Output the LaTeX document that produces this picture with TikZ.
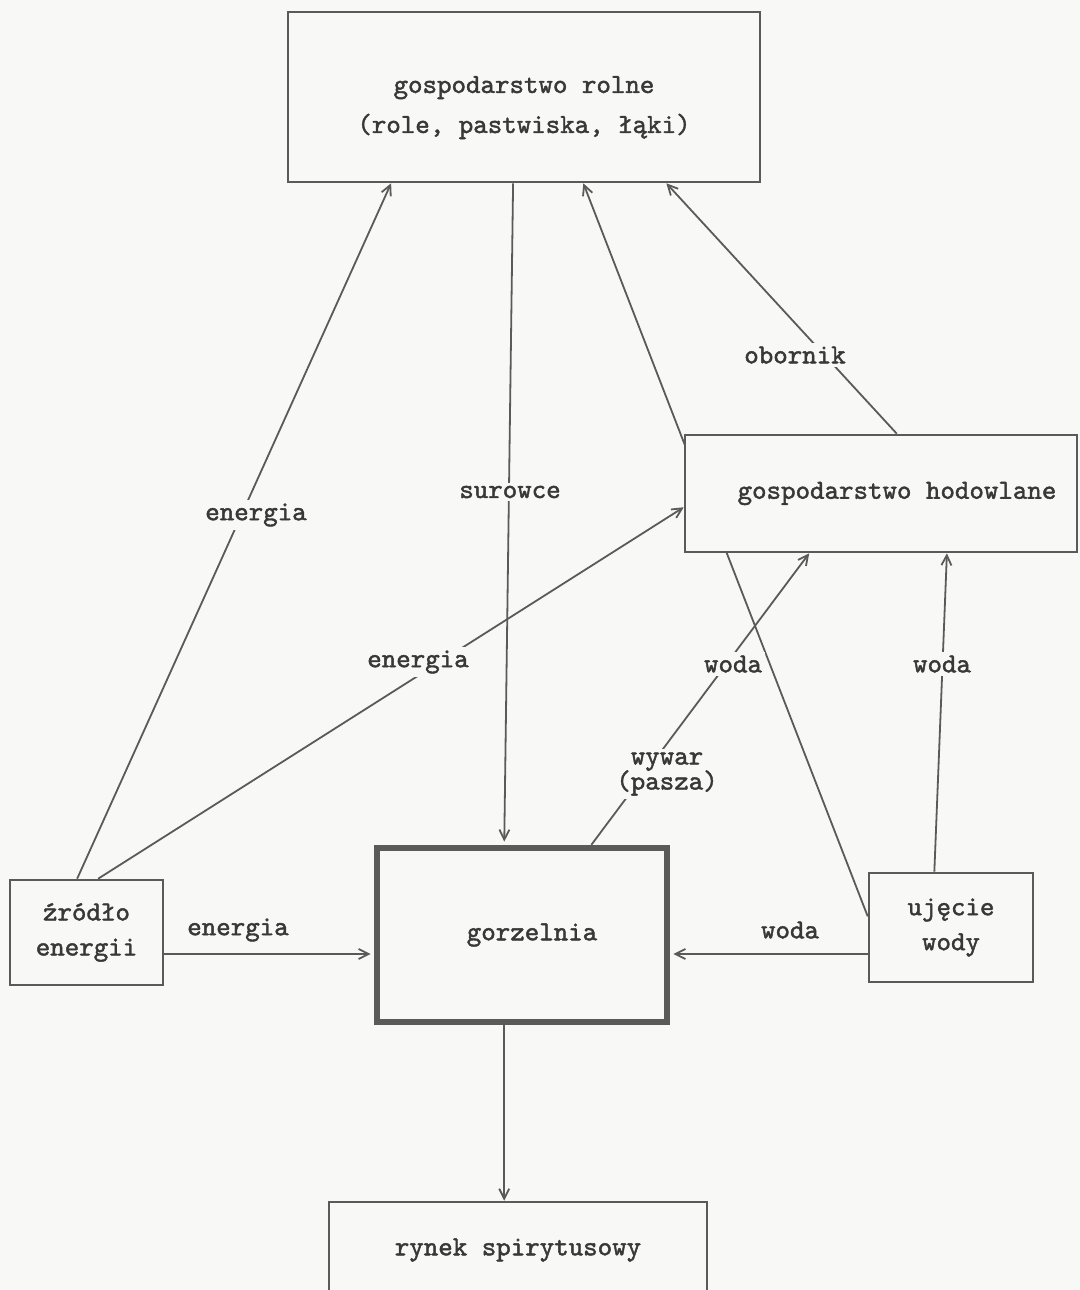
\documentclass[tikz,border=0pt]{standalone}
\usepackage{fontspec}
\setmainfont{lmmono10-regular.otf}[FakeBold=1.6]
\usetikzlibrary{arrows.meta,calc,backgrounds}
\definecolor{InkLine}{HTML}{5A5A5A}
\definecolor{InkText}{HTML}{383838}
\definecolor{Paper}{HTML}{F8F8F6}
\tikzset{>={Straight Barb[length=5pt,width=5pt]},every node/.style={font=\fontsize{13.8}{17.5}\selectfont,
 text=InkText},block/.style={draw=InkLine,line width=1.3pt,fill=Paper,align=center},
 mainblock/.style={block,line width=3.2pt},lbl/.style={fill=Paper,inner sep=1.5pt,align=center},
 flow/.style={draw=InkLine,line width=0.9pt,->}}

\begin{document}
\begin{tikzpicture}[x=0.5pt,y=-0.5pt]
\path[use as bounding box] (0,0) rectangle (1080,1290);
\clip (0,0) rectangle (1080,1290);
% boxes
\node[block,minimum width=236pt,minimum height=85pt] (rolne) at (524,97) {\rule{0pt}{19pt}gospodarstwo rolne\\[2.5pt](role, pastwiska, łąki)};
\node[block,minimum width=196pt,minimum height=58.5pt] (hod) at (881,493.5) {\hspace*{16pt}gospodarstwo hodowlane};
\node[mainblock,minimum width=145pt,minimum height=87pt] (gorz) at (522,935) {\hspace*{10pt}gorzelnia};
\node[block,minimum width=76.5pt,minimum height=52.5pt] (zrodlo) at (86.5,932.5) {źródło\\energii};
\node[block,minimum width=82pt,minimum height=54.5pt] (ujecie) at (951,927.5) {ujęcie\\wody};
\node[block,minimum width=189pt,minimum height=48pt] (rynek) at (518,1250) {rynek spirytusowy};
\coordinate (lvl) at (0,954);
\coordinate (gout) at ($(gorz.south west)!.44!(gorz.south east)$);
% flows
\begin{scope}[on background layer]
\fill[Paper] (0,0) rectangle (1080,1290);
\draw[flow] ($(zrodlo.north west)!.44!(zrodlo.north east)$) -- ($(rolne.south west)!.22!(rolne.south east)$);
\draw[flow] ($(zrodlo.north west)!.575!(zrodlo.north east)$) -- ($(hod.north west)!.615!(hod.south west)$);
\draw[flow,shorten >=1.6pt] ($(rolne.south west)!.477!(rolne.south east)$) -- ($(gorz.north west)!.44!(gorz.north east)$);
\draw[flow] ($(hod.north west)!.54!(hod.north east)$) -- ($(rolne.south west)!.8!(rolne.south east)$);
\draw[flow] ($(gorz.north west)!.734!(gorz.north east)$) -- ($(hod.south west)!.318!(hod.south east)$);
\draw[flow] ($(ujecie.north west)!.4!(ujecie.south west)$) -- ($(rolne.south west)!.625!(rolne.south east)$);
\draw[flow] ($(ujecie.north west)!.4!(ujecie.north east)$) -- ($(hod.south west)!.667!(hod.south east)$);
\draw[flow,shorten >=1.6pt] (zrodlo.east |- lvl) -- (gorz.west |- lvl);
\draw[flow,shorten >=1.6pt] (ujecie.west |- lvl) -- (gorz.east |- lvl);
\draw[flow] (gout) -- (gout |- rynek.north);
\end{scope}
% labels
\node[lbl] (l1) at (256,515) {energia};
\node[lbl] (l2) at (510,492) {surowce};
\node[lbl] (l3) at (795,355) {obornik};
\node[lbl] (l4) at (418,662) {energia};
\node[lbl] (l5) at (733,664) {woda};
\node[lbl] (l6) at (942,664) {woda};
\node[lbl] (l7) at (667,774) {wywar\\[-5pt](pasza)};
\node[lbl] (l8) at (238,930) {energia};
\node[lbl] (l9) at (790,930) {woda};
\end{tikzpicture}
\end{document}
